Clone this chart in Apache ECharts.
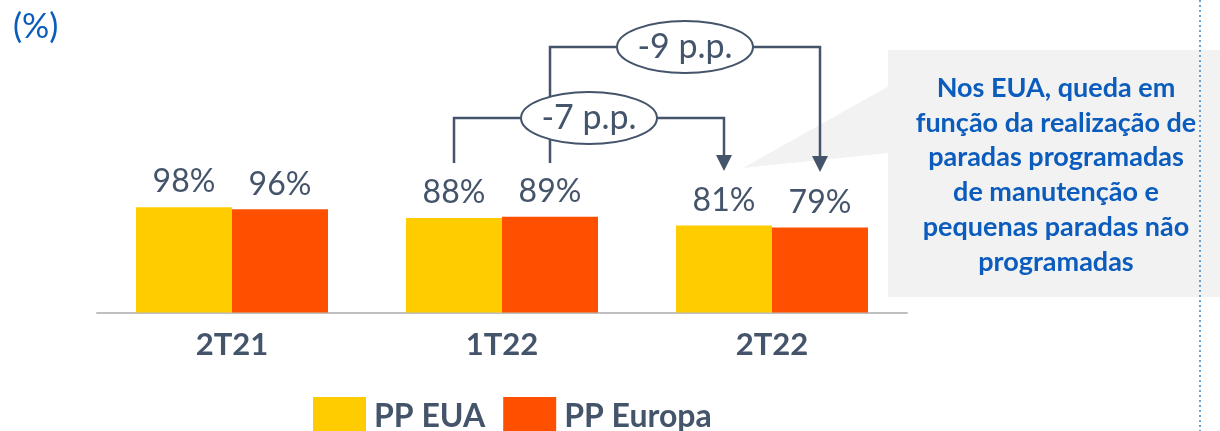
<!DOCTYPE html>
<html>
<head>
<meta charset="utf-8">
<script src="https://cdn.jsdelivr.net/npm/echarts@6/dist/echarts.min.js"></script>
<style>
  html, body { margin: 0; padding: 0; background: #fff; }
  #chart { width: 1220px; height: 431px; }
</style>
</head>
<body>
<div id="chart"></div>
<script>
// dados
var categories = ['2T21', '1T22', '2T22'];
var ppEua = [98, 88, 81];
var ppEuropa = [96, 89, 79];
var seriesNames = ['PP EUA', 'PP Europa'];
var deltas = ['-7 p.p.', '-9 p.p.'];
var calloutLines = [
    'Nos EUA, queda em',
    'função da realização de',
    'paradas programadas',
    'de manutenção e',
    'pequenas paradas não',
    'programadas'
];

var slate = '#44546A';
var blue = '#0B5CBD';
var barW = 96;

var chart = echarts.init(document.getElementById('chart'));

var option = {
    animation: false,
    backgroundColor: '#fff',
    textStyle: { fontFamily: 'Lato' },
    grid: { left: 97, right: 313, top: 205, bottom: 118.5 },
    legend: {
        data: seriesNames,
        top: 392,
        left: 308,
        itemWidth: 53,
        itemHeight: 40,
        itemGap: 18,
        icon: 'rect',
        textStyle: { fontSize: 32, fontWeight: 'bold', color: slate, padding: [0, 0, 0, 3] }
    },
    xAxis: {
        type: 'category',
        data: categories,
        axisLine: { lineStyle: { color: '#BFBFBF', width: 2 } },
        axisTick: { show: false },
        axisLabel: { margin: 17, fontSize: 31, fontWeight: 'bold', color: slate }
    },
    yAxis: { type: 'value', min: 0, max: 100, show: false },
    series: [
        {
            name: seriesNames[0], type: 'bar', data: ppEua, barWidth: barW, barGap: '0%',
            itemStyle: { color: '#FFCC00' },
            label: { show: true, position: 'top', distance: 9, formatter: '{c}%', fontSize: 32, color: slate }
        },
        {
            name: seriesNames[1], type: 'bar', data: ppEuropa, barWidth: barW, barGap: '0%',
            itemStyle: { color: '#FF5000' },
            label: { show: true, position: 'top', distance: 9, formatter: '{c}%', fontSize: 32, color: slate }
        }
    ]
};
chart.setOption(option);

// posições das barras a partir do eixo
function barX(catIdx, serieIdx) {
    var c = chart.convertToPixel({ xAxisIndex: 0 }, categories[catIdx]);
    return serieIdx === 0 ? c - barW / 2 : c + barW / 2;
}

function bracket(x1, x2, yTop, yStart, yEnd, text, textSize) {
    var mid = (x1 + x2) / 2;
    var ls = { stroke: slate, lineWidth: 2.5, fill: null };
    return [
        { type: 'polyline', z: 10, shape: { points: [[x1, yStart], [x1, yTop], [x2, yTop], [x2, yEnd - 15]] }, style: ls },
        { type: 'polygon', z: 10, shape: { points: [[x2 - 8, yEnd - 16], [x2 + 8, yEnd - 16], [x2, yEnd]] }, style: { fill: slate } },
        { type: 'ellipse', z: 20, shape: { cx: mid, cy: yTop, rx: 68, ry: 26 }, style: { fill: '#fff', stroke: slate, lineWidth: 2 } },
        { type: 'text', z: 21, x: mid, y: yTop, style: { text: text, fontSize: textSize, fontFamily: 'Lato', fill: slate, align: 'center', verticalAlign: 'middle' } }
    ];
}

var g = [];
// caixa de comentário
g.push({ type: 'rect', z: 1, shape: { x: 888, y: 50, width: 332, height: 247 }, style: { fill: '#F2F2F2' } });
g.push({ type: 'polygon', z: 1, shape: { points: [[743, 168], [889, 86], [889, 153]] }, style: { fill: '#F2F2F2' } });
g.push({
    type: 'text', z: 5, x: 1056, y: 175,
    style: {
        text: calloutLines.join('\n'), fontSize: 27, fontWeight: 'bold', fontFamily: 'Lato',
        fill: blue, align: 'center', verticalAlign: 'middle', lineHeight: 34.8
    }
});
// linha pontilhada
g.push({ type: 'line', z: 6, shape: { x1: 1200, y1: 0, x2: 1200, y2: 431 }, style: { stroke: '#6A9FD4', lineWidth: 2, lineDash: [2, 3] } });
// (%)
g.push({ type: 'text', left: 13, top: 10, style: { text: '(%)', fontSize: 34, fontFamily: 'Lato', fill: blue } });

// colchetes -7 e -9 p.p.
g = g.concat(bracket(barX(1, 1), barX(2, 1), 47, 163, 172, deltas[1], 34));
g = g.concat(bracket(barX(1, 0), barX(2, 0), 118, 163, 171, deltas[0], 34));
chart.setOption({ graphic: g });
</script>
</body>
</html>
